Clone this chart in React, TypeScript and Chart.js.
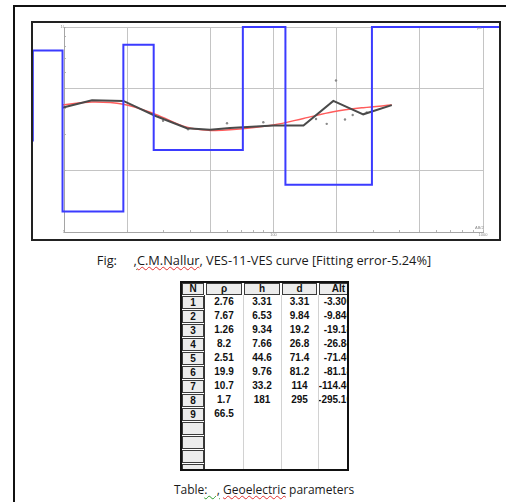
import React, { useEffect, useRef } from "react";
import { Chart, registerables } from "chart.js";

Chart.register(...registerables);

// ---- Layered model (table + blue step curve) ----
const LAYER_N = [1, 2, 3, 4, 5, 6, 7, 8, 9];
const LAYER_RHO = [2.76, 7.67, 1.26, 8.2, 2.51, 19.9, 10.7, 1.7, 66.5];
const LAYER_H = [3.31, 6.53, 9.34, 7.66, 44.6, 9.76, 33.2, 181];
const LAYER_D = [3.31, 9.84, 19.2, 26.8, 71.4, 81.2, 114, 295];
const LAYER_ALT = ["-3.300", "-9.840", "-19.18", "-26.84", "-71.40", "-81.18", "-114.40", "-295.10"];
const RHO_TEXT = ["2.76", "7.67", "1.26", "8.2", "2.51", "19.9", "10.7", "1.7", "66.5"];
const H_TEXT = ["3.31", "6.53", "9.34", "7.66", "44.6", "9.76", "33.2", "181"];
const D_TEXT = ["3.31", "9.84", "19.2", "26.8", "71.4", "81.2", "114", "295"];
const TABLE_HEADERS = ["N", "ρ", "h", "d", "Alt"];
const EMPTY_ROWS = 4;

// ---- Sounding curves (AB/2 vs apparent resistivity) ----
const CURVE_AB2 = [9.8, 13.6, 19.2, 27.2, 38.6, 49.8, 62, 100, 139, 193, 268, 367];
const CALC_RHO = [4.04, 4.39, 4.36, 3.69, 3.21, 3.15, 3.22, 3.31, 3.31, 4.36, 3.75, 4.16];
const FIT_RHO = [4.16, 4.31, 4.2, 3.76, 3.24, 3.13, 3.15, 3.33, 3.58, 3.86, 4.04, 4.16];
const OBS_AB2 = [29.7, 39.1, 60.0, 89.4, 159.6, 179.5, 198.8, 219.4, 238.8, 278.6];
const OBS_RHO = [3.49, 3.17, 3.39, 3.43, 3.56, 3.37, 5.48, 3.54, 3.72, 3.83];

// ---- Axes ----
const X_RANGE = [10, 1000];
const Y_RANGE = [1, 10];
const MODEL_VIEW_X = [7.1, 1200];
const X_TICKS = [10, 20, 30, 40, 50, 60, 70, 80, 90, 100, 200, 300, 400, 500, 600, 700, 800, 900, 1000];
const X_GRID = [20, 50, 100, 200, 500, 1000];
const X_LABELED = [100, 1000];
const Y_TICKS = [1, 2, 3, 4, 5, 6, 7, 8, 9, 10];
const Y_GRID = [2, 5, 10];
const Y_LABELED = [1, 10];

const clamp = (v: number, lo: number, hi: number) => Math.min(hi, Math.max(lo, v));

function buildModel() {
  const pts: { x: number; y: number }[] = [];
  LAYER_RHO.forEach((rho, i) => {
    const x0 = i === 0 ? MODEL_VIEW_X[0] : LAYER_D[i - 1];
    const x1 = i === LAYER_RHO.length - 1 ? MODEL_VIEW_X[1] : LAYER_D[i];
    const y = clamp(rho, Y_RANGE[0], Y_RANGE[1]);
    pts.push({ x: clamp(x0, MODEL_VIEW_X[0], MODEL_VIEW_X[1]), y });
    pts.push({ x: clamp(x1, MODEL_VIEW_X[0], MODEL_VIEW_X[1]), y });
  });
  return pts;
}

const GRID_COLOR = "#c4c4c4";
const TICK_FONT = { family: "Liberation Sans, Arial, sans-serif", size: 4 };

function ChartBox() {
  const ref = useRef<HTMLCanvasElement>(null);
  useEffect(() => {
    const canvas = ref.current;
    if (!canvas) return;
    const chart = new Chart(canvas, {
      type: "line",
      data: {
        datasets: [
          {
            label: "model",
            data: buildModel(),
            borderColor: "#3b3bff",
            borderWidth: 2,
            pointRadius: 0,
            tension: 0,
            fill: false,
            clip: { left: 31, right: 16, top: 2, bottom: 0 },
          },
          {
            label: "calculated",
            data: CURVE_AB2.map((x, i) => ({ x, y: CALC_RHO[i] })),
            borderColor: "#4a4a4a",
            borderWidth: 2,
            pointRadius: 0,
            tension: 0,
            fill: false,
            clip: 4,
          },
          {
            label: "fit",
            data: CURVE_AB2.map((x, i) => ({ x, y: FIT_RHO[i] })),
            borderColor: "#ff5c5c",
            borderWidth: 1.5,
            pointRadius: 0,
            tension: 0.35,
            fill: false,
            clip: 4,
          },
          {
            label: "observed",
            data: OBS_AB2.map((x, i) => ({ x, y: OBS_RHO[i] })),
            showLine: false,
            pointRadius: 1.2,
            pointBackgroundColor: "#8a8a8a",
            pointBorderWidth: 0,
            borderColor: "#8a8a8a",
          },
        ],
      },
      options: {
        animation: false,
        responsive: false,
        maintainAspectRatio: false,
        events: [],
        layout: { padding: { top: 1, right: 16, left: 0, bottom: 0 } },
        plugins: { legend: { display: false }, tooltip: { enabled: false } },
        scales: {
          x: {
            type: "logarithmic",
            position: "bottom",
            afterDataLimits: (s: any) => {
              s.min = X_RANGE[0];
              s.max = X_RANGE[1];
            },
            afterBuildTicks: (s: any) => {
              s.ticks = X_TICKS.map((v) => ({ value: v }));
            },
            afterFit: (s: any) => {
              s.height = 7;
            },
            ticks: {
              autoSkip: false,
              maxRotation: 0,
              minRotation: 0,
              padding: 2,
              color: "#8a8a8a",
              font: TICK_FONT,
              callback: (v: any) => (X_LABELED.includes(Number(v)) ? String(v) : ""),
            },
            grid: {
              color: (ctx: any) => (X_GRID.includes(ctx.tick?.value) ? GRID_COLOR : "rgba(0,0,0,0)"),
              tickColor: "#b5b5b5",
              tickLength: -2,
              lineWidth: 1,
            },
            border: { color: "#a5a5a5", width: 1 },
          },
          y: {
            type: "logarithmic",
            min: Y_RANGE[0],
            max: Y_RANGE[1],
            afterBuildTicks: (s: any) => {
              s.ticks = Y_TICKS.map((v) => ({ value: v }));
            },
            afterFit: (s: any) => {
              s.width = 31;
            },
            ticks: {
              autoSkip: false,
              padding: 1,
              color: "#8a8a8a",
              font: TICK_FONT,
              callback: (v: any) => (Y_LABELED.includes(Number(v)) ? String(v) : ""),
            },
            grid: {
              color: (ctx: any) => (Y_GRID.includes(ctx.tick?.value) ? GRID_COLOR : "rgba(0,0,0,0)"),
              tickColor: "#b5b5b5",
              tickLength: -2,
              lineWidth: 1,
            },
            border: { color: "#a5a5a5", width: 1 },
          },
        },
      } as any,
    });
    return () => chart.destroy();
  }, []);
  return <canvas ref={ref} width={466} height={216} style={{ display: "block", width: 466, height: 216 }} />;
}

// ---- table geometry (relative to table inner box) ----
const COLS = [
  [0, 23],
  [23, 61],
  [61, 99],
  [99, 136],
  [136, 186],
];
const HEADER_H = 12;
const ROW_H = 14;

const cellFont: React.CSSProperties = {
  fontFamily: "'Liberation Sans', Arial, sans-serif",
  fontWeight: "bold",
  fontSize: 10,
  color: "#111",
  whiteSpace: "nowrap",
};

function boxStyle(left: number, top: number, width: number, height: number): React.CSSProperties {
  return {
    position: "absolute",
    left,
    top,
    width,
    height,
    boxSizing: "border-box",
    border: "1px solid #3a3a3a",
    background: "#ececec",
    textAlign: "center",
    lineHeight: `${height - 2}px`,
    ...cellFont,
  };
}

function ParamTable() {
  const items: React.ReactNode[] = [];
  TABLE_HEADERS.forEach((h, i) => {
    const [l, r] = COLS[i];
    const style = boxStyle(l + (i === 0 ? 0 : 1), 0, r - l - 2 + (i === 0 ? 1 : 0), HEADER_H);
    items.push(
      <div key={"h" + i} style={style}>
        {i === 4 ? <span style={{ position: "absolute", left: 0, width: 37, textAlign: "center" }}>{h}</span> : h}
      </div>
    );
  });
  const totalRows = LAYER_N.length + EMPTY_ROWS;
  for (let r = 0; r < totalRows; r++) {
    const top = HEADER_H + r * ROW_H;
    items.push(
      <div key={"n" + r} style={boxStyle(0, top + 1, 22, ROW_H - 1)}>
        {r < LAYER_N.length ? LAYER_N[r] : ""}
      </div>
    );
    if (r < LAYER_N.length) {
      const vals = [RHO_TEXT[r], H_TEXT[r] ?? "", D_TEXT[r] ?? ""];
      vals.forEach((v, j) => {
        const [l, rr] = COLS[j + 1];
        items.push(
          <div
            key={`c${r}-${j}`}
            style={{ position: "absolute", left: l, top, width: rr - l, height: ROW_H, lineHeight: `${ROW_H}px`, textAlign: "center", ...cellFont }}
          >
            {v}
          </div>
        );
      });
      if (LAYER_ALT[r]) {
        items.push(
          <div
            key={`a${r}`}
            style={{ position: "absolute", left: 120, top, width: 50, height: ROW_H, lineHeight: `${ROW_H}px`, textAlign: "right", ...cellFont }}
          >
            {LAYER_ALT[r]}
          </div>
        );
      }
    }
  }
  [23].forEach((x, i) =>
    items.push(<div key={"dk" + i} style={{ position: "absolute", left: x - 1, top: HEADER_H, width: 1, height: 200, background: "#333" }} />)
  );
  [61, 99, 136].forEach((x, i) =>
    items.push(<div key={"sp" + i} style={{ position: "absolute", left: x, top: HEADER_H, width: 1, height: 200, background: "#d2d2d2" }} />)
  );
  return (
    <div
      style={{
        position: "absolute",
        left: 180,
        top: 281,
        width: 169,
        height: 190,
        boxSizing: "border-box",
        border: "2px solid #111",
        overflow: "hidden",
        background: "#fff",
      }}
    >
      <div style={{ position: "absolute", left: 0, top: 0, width: 200, height: 200 }}>{items}</div>
    </div>
  );
}

const captionStyle: React.CSSProperties = {
  position: "absolute",
  left: 0,
  width: 528,
  textAlign: "center",
  fontFamily: "'Open Sans', 'Noto Sans', sans-serif",
  lineHeight: "14px",
  color: "#1a1a1a",
  whiteSpace: "pre",
};

const redWave: React.CSSProperties = {
  textDecorationLine: "underline",
  textDecorationStyle: "wavy",
  textDecorationColor: "#e03030",
  textDecorationThickness: "1px",
};
const greenWave: React.CSSProperties = {
  textDecorationLine: "underline",
  textDecorationStyle: "wavy",
  textDecorationColor: "#2a9a2a",
  textDecorationThickness: "1px",
};

const tinyLabel: React.CSSProperties = {
  position: "absolute",
  fontFamily: "'Liberation Sans', Arial, sans-serif",
  fontSize: 8,
  color: "#8a8a8a",
  transform: "scale(0.5)",
  transformOrigin: "0 0",
  whiteSpace: "nowrap",
  lineHeight: "8px",
};

export default function App() {
  return (
    <div style={{ position: "fixed", left: 0, top: 0, width: 506, height: 502, overflow: "hidden", background: "#fff" }}>
      <div
        style={{
          position: "absolute",
          left: 13,
          top: 5,
          width: 620,
          height: 620,
          border: "2px solid #111",
          boxSizing: "border-box",
        }}
      />
      <div
        style={{
          position: "absolute",
          left: 31,
          top: 21,
          width: 470,
          height: 220,
          border: "2px solid #222",
          boxSizing: "border-box",
          background: "#fff",
        }}
      >
        <ChartBox />
      </div>
      <span style={{ ...tinyLabel, left: 477, top: 26 }}>ρa</span>
      <span style={{ ...tinyLabel, left: 475, top: 226 }}>AB/2</span>
      <div style={{ ...captionStyle, top: 253, fontSize: 12.8 }}>
        {"Fig:     "}
        <span style={greenWave}>,</span>
        <span style={redWave}>C.M.Nallur</span>
        {", VES-11-VES curve [Fitting error-5.24%]"}
      </div>
      <ParamTable />
      <div style={{ ...captionStyle, top: 483, fontSize: 12 }}>
        {"Table"}
        <span style={greenWave}>{":   ,"}</span>
        {" "}
        <span style={redWave}>Geoelectric</span>
        {" parameters"}
      </div>
    </div>
  );
}
